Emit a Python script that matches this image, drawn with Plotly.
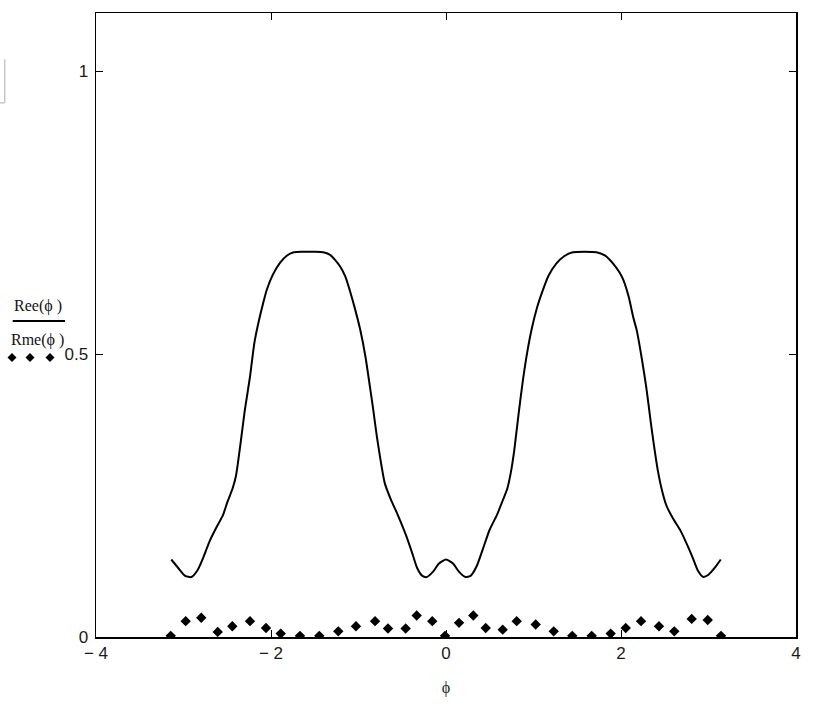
import plotly.graph_objects as go

# Ree(phi) curve
ree_x = [-3.14, -3.06, -2.98, -2.91, -2.84, -2.77, -2.70, -2.62, -2.55, -2.50, -2.44, -2.40,
         -2.35, -2.30, -2.24, -2.19, -2.14, -2.09, -2.05, -1.98, -1.90, -1.82, -1.74, -1.64,
         -1.50, -1.40, -1.32, -1.21, -1.15, -1.10, -1.04, -0.98, -0.92, -0.87, -0.83, -0.79,
         -0.74, -0.70, -0.63, -0.56, -0.45, -0.39, -0.33, -0.27, -0.22, -0.15, -0.08, 0.00,
         0.08, 0.15, 0.22, 0.28, 0.35, 0.42, 0.50, 0.58, 0.64, 0.70, 0.74, 0.78, 0.83, 0.88,
         0.93, 0.98, 1.04, 1.10, 1.17, 1.26, 1.35, 1.45, 1.58, 1.72, 1.82, 1.91, 1.98, 2.03,
         2.09, 2.14, 2.18, 2.24, 2.29, 2.34, 2.38, 2.42, 2.47, 2.52, 2.60, 2.68, 2.75, 2.82,
         2.88, 2.94, 3.00, 3.07, 3.14]
ree_y = [0.137, 0.122, 0.108, 0.106, 0.118, 0.142, 0.170, 0.195, 0.215, 0.238, 0.262, 0.285,
         0.340, 0.400, 0.460, 0.520, 0.558, 0.590, 0.613, 0.640, 0.661, 0.674, 0.680, 0.681,
         0.681, 0.680, 0.675, 0.655, 0.637, 0.613, 0.580, 0.543, 0.495, 0.443, 0.400, 0.354,
         0.305, 0.272, 0.243, 0.219, 0.177, 0.150, 0.122, 0.108, 0.106, 0.115, 0.130, 0.137,
         0.130, 0.115, 0.106, 0.108, 0.125, 0.155, 0.190, 0.215, 0.238, 0.262, 0.290, 0.330,
         0.395, 0.455, 0.505, 0.545, 0.582, 0.610, 0.638, 0.660, 0.673, 0.680, 0.681, 0.680,
         0.674, 0.660, 0.645, 0.630, 0.600, 0.565, 0.542, 0.490, 0.440, 0.380, 0.335, 0.295,
         0.258, 0.232, 0.208, 0.188, 0.165, 0.140, 0.117, 0.106, 0.110, 0.122, 0.137]

# Rme(phi) points
rme_x = [-3.146, -2.975, -2.797, -2.609, -2.442, -2.240, -2.057, -1.889, -1.669, -1.448,
         -1.231, -1.029, -0.811, -0.663, -0.461, -0.335, -0.157, -0.011, 0.149, 0.312,
         0.454, 0.648, 0.808, 1.025, 1.231, 1.443, 1.665, 1.882, 2.054, 2.229,
         2.434, 2.609, 2.808, 2.991, 3.143]
rme_y = [0.002, 0.028, 0.034, 0.009, 0.019, 0.028, 0.016, 0.006, 0.002, 0.002,
         0.010, 0.019, 0.028, 0.015, 0.015, 0.038, 0.028, 0.002, 0.025, 0.038,
         0.016, 0.013, 0.028, 0.022, 0.010, 0.002, 0.002, 0.006, 0.016, 0.028,
         0.019, 0.010, 0.032, 0.030, 0.002]

x_ticks = [-4, -2, 0, 2, 4]
x_tick_labels = ["\u2212 4", "\u2212 2", "0", "2", "4"]
y_ticks = [0, 0.5, 1]
y_tick_labels = ["0", "0.5", "1"]

tick_font = dict(family="Liberation Sans Narrow, Arial Narrow, Liberation Sans, Arial", size=17, color="#1a1a1a")
serif_font = dict(family="Liberation Serif, Times New Roman, serif", size=16, color="#111")

fig = go.Figure()
fig.add_trace(go.Scatter(x=ree_x, y=ree_y, mode="lines", name="Ree(\u03d5)",
                         line=dict(color="black", width=2, shape="spline", smoothing=0.6)))
fig.add_trace(go.Scatter(x=rme_x, y=rme_y, mode="markers", name="Rme(\u03d5)",
                         marker=dict(symbol="diamond", size=8, color="black")))

fig.update_layout(width=824, height=704, margin=dict(l=96, r=28, t=13, b=67, autoexpand=False),
                  plot_bgcolor="white", paper_bgcolor="white", showlegend=False)

fig.update_xaxes(range=[-4, 4], tickvals=x_ticks, ticktext=x_tick_labels, ticks="inside",
                 ticklen=7, tickcolor="black", tickwidth=1, showline=True, linecolor="black",
                 linewidth=1.5, mirror="ticks", showgrid=False, zeroline=False, tickfont=tick_font,
                 ticklabelstandoff=0,
                 title=dict(text="\u03d5", font=dict(family="Liberation Serif, serif", size=16, color="#222"),
                            standoff=20))
fig.update_yaxes(range=[0, 1.103], tickvals=y_ticks, ticktext=y_tick_labels, ticks="inside",
                 ticklen=7, tickcolor="black", tickwidth=1, showline=True, linecolor="black",
                 linewidth=1.5, mirror="ticks", showgrid=False, zeroline=False, tickfont=tick_font,
                 ticklabelstandoff=3)

# Mathcad-style legend at left
fig.add_annotation(x=-0.0829, y=0.530, xref="paper", yref="paper", text="Ree(\u03d5 )",
                   showarrow=False, font=serif_font, xanchor="center", yanchor="middle")
fig.add_annotation(x=-0.0829, y=0.4755, xref="paper", yref="paper", text="Rme(\u03d5 )",
                   showarrow=False, font=serif_font, xanchor="center", yanchor="middle")
fig.add_shape(type="line", xref="paper", yref="paper", x0=-0.119, x1=-0.0443, y0=0.5065, y1=0.5065,
              line=dict(color="black", width=2))
for lx in [-0.120, -0.0943, -0.0657]:
    fig.add_shape(type="path", xref="paper", yref="paper", xsizemode="pixel", ysizemode="pixel",
                  xanchor=lx, yanchor=0.448, path="M -4.5 0 L 0 4.5 L 4.5 0 L 0 -4.5 Z",
                  fillcolor="black", line=dict(color="black", width=0))

# light gray bracket at far left
fig.add_shape(type="line", xref="paper", yref="paper", x0=-0.1304, x1=-0.1304, y0=0.856, y1=0.926,
              line=dict(color="#c8c8c8", width=1.5))
fig.add_shape(type="line", xref="paper", yref="paper", x0=-0.1371, x1=-0.1304, y0=0.856, y1=0.856,
              line=dict(color="#c8c8c8", width=1.5))

# remove the default 8px page margin so the figure sits at the window's corner
fig.write_html("out.html", config={"displayModeBar": False, "staticPlot": True},
               post_script="document.body.style.margin='0';")
